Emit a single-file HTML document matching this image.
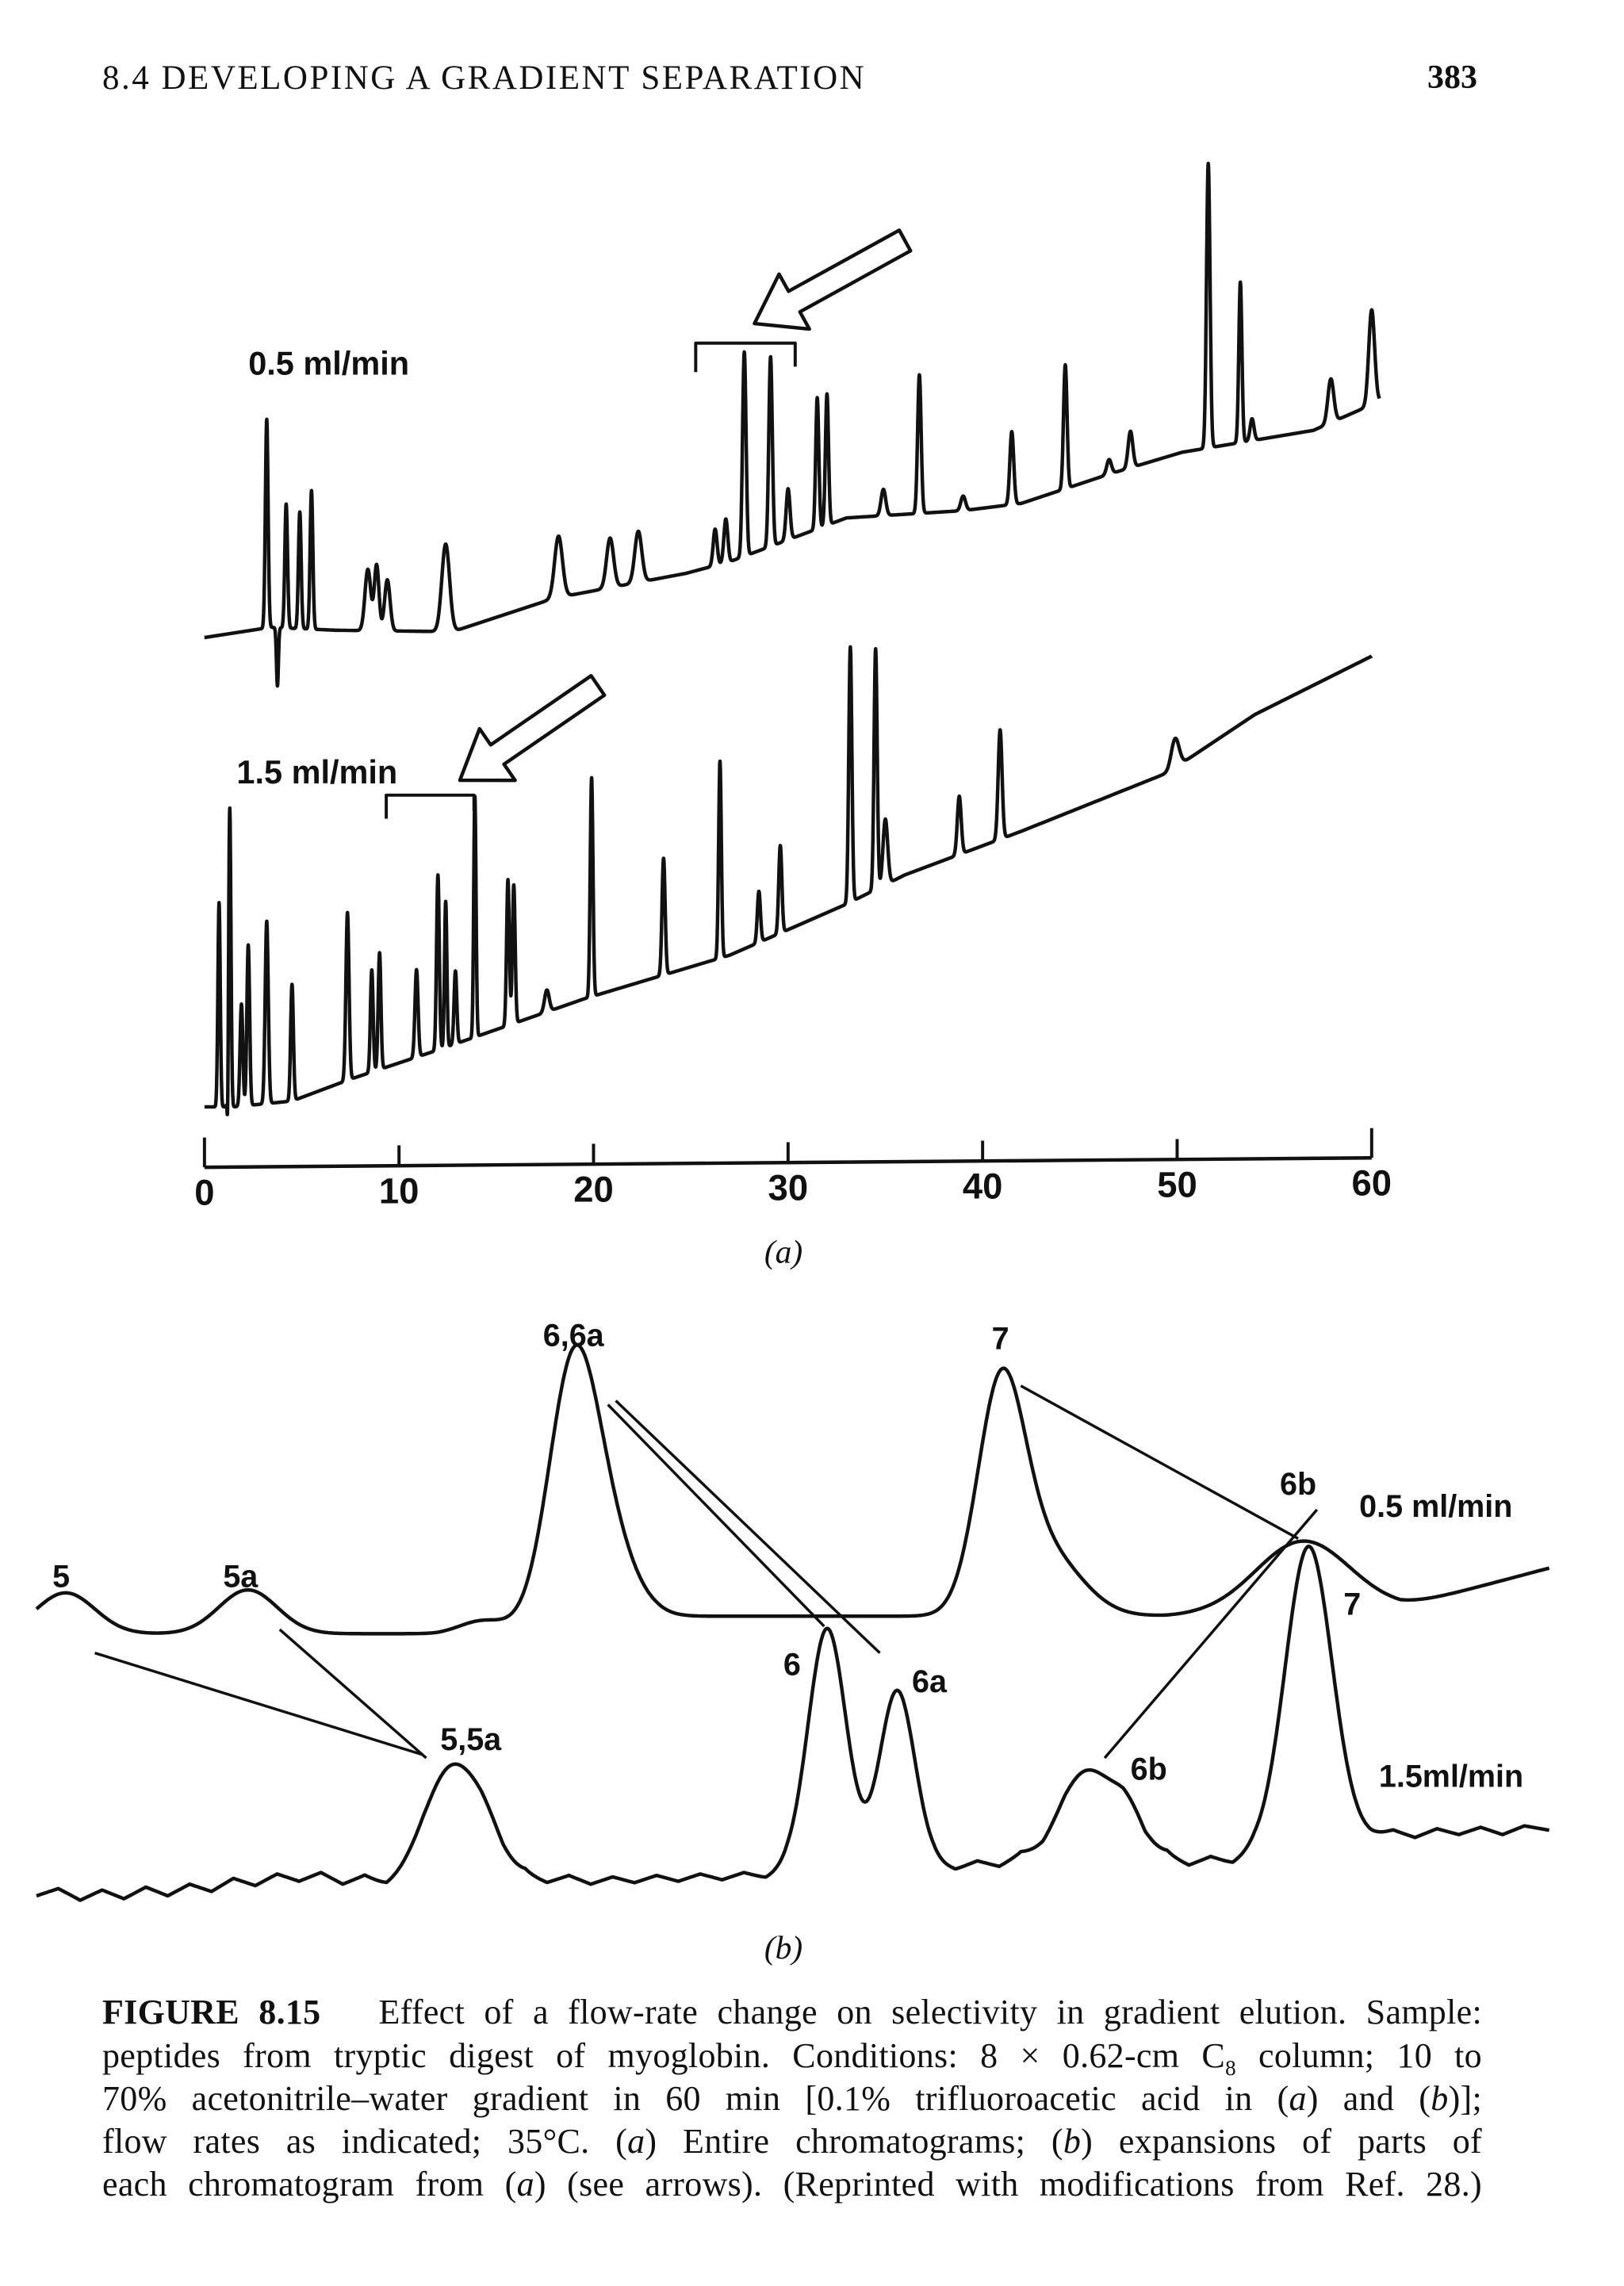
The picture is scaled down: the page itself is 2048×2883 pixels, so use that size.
<!DOCTYPE html>
<html><head><meta charset="utf-8">
<style>
html,body{margin:0;padding:0;background:#fff;}
#page{position:relative;width:2048px;height:2883px;overflow:hidden;background:#fff;}
.hdr{position:absolute;font-family:"Liberation Serif",serif;font-size:43px;color:#111;top:74px;}
.cap{position:absolute;left:129px;width:1740px;font-family:"Liberation Serif",serif;font-size:44px;letter-spacing:0.3px;color:#111;text-align:justify;text-align-last:justify;white-space:nowrap;line-height:55px;}
svg{position:absolute;left:0;top:0;}
</style></head>
<body>
<div id="page">
<div class="hdr" style="left:129px;letter-spacing:2.5px">8.4 DEVELOPING A GRADIENT SEPARATION</div>
<div class="hdr" style="left:1800px;font-weight:bold;font-size:42px">383</div>

<svg width="2048" height="2883" viewBox="0 0 2048 2883"><g id="chart" transform="scale(0.988)"></g></svg>

<div>
<div class="cap" style="top:2510px"><b>FIGURE 8.15</b>&nbsp;&nbsp; Effect of a flow-rate change on selectivity in gradient elution. Sample:</div>
<div class="cap" style="top:2565px">peptides from tryptic digest of myoglobin. Conditions: 8 × 0.62-cm C<sub style="font-size:27px">8</sub> column; 10 to</div>
<div class="cap" style="top:2619px">70% acetonitrile–water gradient in 60 min [0.1% trifluoroacetic acid in (<i>a</i>) and (<i>b</i>)];</div>
<div class="cap" style="top:2673px">flow rates as indicated; 35°C. (<i>a</i>) Entire chromatograms; (<i>b</i>) expansions of parts of</div>
<div class="cap" style="top:2727px">each chromatogram from (<i>a</i>) (see arrows). (Reprinted with modifications from Ref. 28.)</div>
</div>
</div>
<script>
// ---------- (a) data: time in minutes, signal in arbitrary units ----------
const axisTicks = [0,10,20,30,40,50,60];
const axisTickLabels = ["0","10","20","30","40","50","60"];
const topBaseline = [[0,13],[3.4,20],[6.75,18],[12.75,17],[18,40],[24.75,57],[27,65],[33,95],[39,100],[42,105],[46.5,125],[50.25,140],[54.75,150],[57,155],[60.4,175]];
const topPeaks = [[3.2,143,0.07],[3.75,-40,0.05],[4.2,85,0.07],[4.9,80,0.07],[5.5,95,0.07],[8.4,42,0.15],[8.85,45,0.12],[9.4,35,0.14],[12.4,60,0.2],[18.2,42,0.2],[20.85,34,0.18],[22.3,35,0.18],[26.25,25,0.1],[26.8,30,0.1],[27.75,140,0.09],[29.1,130,0.09],[30,35,0.1],[31.5,90,0.08],[32,90,0.08],[34.9,18,0.12],[36.75,95,0.09],[39,10,0.12],[41.5,50,0.1],[44.25,85,0.09],[46.5,10,0.12],[47.6,25,0.12],[51.6,195,0.09],[53.25,110,0.08],[53.85,15,0.1],[57.9,30,0.15],[60,65,0.15]];
const botBaseline = [[0,21],[1.5,21],[4.5,25],[7.5,40],[12,60],[19.5,95],[27,125],[33,160],[36,180],[42,210],[49.5,250],[54,290],[60,330]];
const botPeaks = [[0.75,140,0.06],[1.2,-41,0.03],[1.3,205,0.06],[1.9,70,0.07],[2.25,110,0.07],[3.2,125,0.08],[4.5,80,0.07],[7.35,115,0.08],[8.6,70,0.07],[9,80,0.07],[10.9,60,0.08],[12,120,0.07],[12.4,100,0.06],[12.9,50,0.07],[13.9,165,0.06],[15.6,100,0.07],[15.9,95,0.07],[17.6,15,0.12],[19.9,150,0.07],[23.6,80,0.08],[26.5,135,0.07],[28.5,35,0.08],[29.6,60,0.08],[33.2,175,0.08],[34.5,165,0.08],[35,45,0.12],[38.8,40,0.1],[40.9,75,0.1],[49.9,20,0.2]];
// ---------- (b) data ----------
const bTopBaseline = [[25,10],[300,10],[360,14],[450,22],[640,22],[700,22],[800,22],[960,28],[1062,55]];
const bTopPeaks = [[45,28,20],[170,30,20],[330,7,15],[393,172,17],[418,45,18],[686,146,16],[715,45,25],[893,48,32]];
const bBotBaseline = [[25,0],[40,5],[55,-3],[70,4],[85,-2],[100,6],[115,0],[130,8],[145,3],[160,12],[175,7],[190,15],[205,10],[220,16],[235,8],[250,14],[265,6],[280,12],[290,15],[300,15],[330,14],[345,10],[360,15],[375,9],[390,14],[405,8],[420,13],[435,9],[450,14],[465,10],[480,15],[495,11],[510,16],[525,12],[540,18],[560,18],[640,22],[655,18],[670,24],[685,20],[700,28],[715,24],[730,30],[770,30],[785,22],[800,28],[815,21],[830,27],[845,22],[860,30],[940,40],[955,45],[970,40],[985,46],[1000,42],[1015,47],[1030,42],[1045,48],[1062,45]];
const bBotPeaks = [[310,73,18],[335,20,12],[567,165,13],[615,120,12],[745,55,18],[775,25,12],[897,205,16]];

const svg = document.getElementById('chart');
const NS = 'http://www.w3.org/2000/svg';
const xA = t => 261 + t*24.83;
const axisY = t => 1490 - t*0.2;
const yTop = v => 838 - v*1.862;
const yBot = v => 1452 - v*1.862;
const xB = u => u*1.862;
const yBTop = v => 2104 - v*1.862;
const yBBot = v => 2420 - v*1.862;

function interp(base, t){
  if(t<=base[0][0]) return base[0][1];
  for(let i=1;i<base.length;i++){
    if(t<=base[i][0]){const a=base[i-1],b=base[i];return a[1]+(b[1]-a[1])*(t-a[0])/(b[0]-a[0]);}
  }
  return base[base.length-1][1];
}
function signal(base,peaks,t){
  let v=interp(base,t);
  for(const p of peaks){const z=(t-p[0])/p[2]; if(Math.abs(z)<6) v+=p[1]*Math.exp(-0.5*z*z);}
  return v;
}
function tracePath(base,peaks,t0,t1,step,xf,yf){
  let d='';
  for(let t=t0;t<=t1+1e-9;t+=step){
    d+=(d?'L':'M')+xf(t).toFixed(1)+','+yf(signal(base,peaks,t)).toFixed(1);
  }
  return d;
}
function addPath(d,name,w){
  const p=document.createElementNS(NS,'path');
  p.setAttribute('d',d);p.setAttribute('fill','none');p.setAttribute('stroke','#111');
  p.setAttribute('stroke-width',w||4.5);p.setAttribute('stroke-linejoin','round');
  
  
  svg.appendChild(p);return p;
}
function addText(x,y,s,name,size,anchor,extra){
  const t=document.createElementNS(NS,'text');
  t.setAttribute('x',x);t.setAttribute('y',y);t.textContent=s;
  t.setAttribute('font-family','"Liberation Sans", "DejaVu Sans", sans-serif');
  t.setAttribute('font-size',size);t.setAttribute('fill','#111');
  if(anchor)t.setAttribute('text-anchor',anchor);
  if(extra)for(const k in extra)t.setAttribute(k,extra[k]);
  
  
  svg.appendChild(t);return t;
}
function addLine(x1,y1,x2,y2,name,w){
  addPath(`M${x1},${y1}L${x2},${y2}`,name,w||3.5);
}
function arrow(tip,tail,name){
  const dx=tip[0]-tail[0],dy=tip[1]-tail[1],L=Math.hypot(dx,dy);
  const d=[dx/L,dy/L],n=[-d[1],d[0]];
  const Lh=58,Wh=40,Ws=15;
  const bx=tip[0]-d[0]*Lh,by=tip[1]-d[1]*Lh;
  const pts=[[tip[0],tip[1]],[bx+n[0]*Wh,by+n[1]*Wh],[bx+n[0]*Ws,by+n[1]*Ws],[tail[0]+n[0]*Ws,tail[1]+n[1]*Ws],[tail[0]-n[0]*Ws,tail[1]-n[1]*Ws],[bx-n[0]*Ws,by-n[1]*Ws],[bx-n[0]*Wh,by-n[1]*Wh]];
  const p=document.createElementNS(NS,'polygon');
  p.setAttribute('points',pts.map(q=>q[0].toFixed(1)+','+q[1].toFixed(1)).join(' '));
  p.setAttribute('fill','#fff');p.setAttribute('stroke','#111');p.setAttribute('stroke-width',4.5);p.setAttribute('stroke-linejoin','round');
  
  
  svg.appendChild(p);
}

// (a) traces
addPath(tracePath(topBaseline,topPeaks,0,60.4,0.01,xA,yTop),'trace-0-5-ml-min');
addPath(tracePath(botBaseline,botPeaks,0,60,0.01,xA,yBot),'trace-1-5-ml-min');
addLine(xA(0),axisY(0),xA(60),axisY(60),'x-axis-line',4.5);
axisTicks.forEach((t,i)=>{
  const len=(i===0||i===axisTicks.length-1)?38:26;
  addLine(xA(t),axisY(t),xA(t),axisY(t)-len,'x-tick-'+axisTickLabels[i],4);
  addText(xA(t),axisY(t)+48,axisTickLabels[i],'x-tick-label-'+axisTickLabels[i],46,'middle',{'font-weight':'bold'});
});
addText(1000,1612,'(a)','panel-a-label',42,'middle',{'font-family':'"Liberation Serif", serif','font-style':'italic'});
addText(317,478,'0.5 ml/min','label-0-5-ml-min',42,null,{'font-weight':'bold'});
addText(302,1000,'1.5 ml/min','label-1-5-ml-min',42,null,{'font-weight':'bold'});
addPath('M888,475L888,438L1015,438L1015,468','bracket-0-5',4);
addPath('M493,1045L493,1015L605,1015L605,1035','bracket-1-5',4);
arrow([963,413],[1155,307],'arrow-top');
arrow([587,996],[763,875],'arrow-bottom');

// (b) traces
addPath(tracePath(bTopBaseline,bTopPeaks,25,1062,1,xB,yBTop),'expansion-trace-0-5');
addPath(tracePath(bBotBaseline,bBotPeaks,25,1062,1,xB,yBBot),'expansion-trace-1-5');
addLine(121,2110,540,2240,'connector-5');
addLine(357,2080,544,2244,'connector-5a');
addLine(776,1793,1052,2076,'connector-6');
addLine(786,1788,1123,2110,'connector-6a');
addLine(1303,1769,1657,1964,'connector-7');
addLine(1681,1927,1410,2244,'connector-6b');
const fs=40;
const bo={'font-weight':'bold'};
addText(78,2026,'5','peak-label-5',fs,'middle',bo);
addText(307,2026,'5a','peak-label-5a',fs,'middle',bo);
addText(732,1718,'6,6a','peak-label-6-6a',fs,'middle',bo);
addText(1277,1722,'7','peak-label-7-top',fs,'middle',bo);
addText(1657,1908,'6b','peak-label-6b-top',fs,'middle',bo);
addText(1735,1936,'0.5 ml/min','label-b-0-5-ml-min',40,null,bo);
addText(1726,2061,'7','peak-label-7-bottom',fs,'middle',bo);
addText(1011,2138,'6','peak-label-6',fs,'middle',bo);
addText(1164,2160,'6a','peak-label-6a',fs,null,bo);
addText(562,2234,'5,5a','peak-label-5-5a',fs,null,bo);
addText(1443,2272,'6b','peak-label-6b-bottom',fs,null,bo);
addText(1760,2281,'1.5ml/min','label-b-1-5-ml-min',40,null,bo);
addText(1000,2500,'(b)','panel-b-label',42,'middle',{'font-family':'"Liberation Serif", serif','font-style':'italic'});
</script>
</body></html>
